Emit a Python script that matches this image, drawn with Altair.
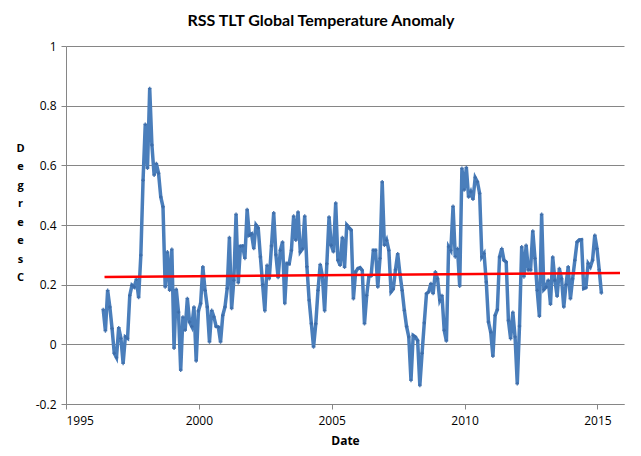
import altair as alt
import pandas as pd

# Monthly anomaly values (deg C), Jul 1996 onward
anom_a = [0.117, 0.045, 0.181, 0.125, 0.053, -0.03, -0.044, 0.056, 0.02, -0.064,
          0.025, 0.02, 0.164, 0.198, 0.192, 0.218, 0.157, 0.299, 0.55, 0.738,
          0.59, 0.858, 0.668, 0.567, 0.606, 0.573, 0.494, 0.461, 0.192, 0.31]
anom_b = [0.181, 0.319, -0.013, 0.185, 0.108, -0.087, 0.092, 0.047, 0.154, 0.075,
          0.06, 0.125, -0.056, 0.112, 0.137, 0.26, 0.181, 0.125, 0.008, 0.114,
          0.092, 0.06, 0.058, 0.008, 0.097, 0.125, 0.187]
anom_c = [0.358, 0.12, 0.215, 0.436, 0.206, 0.329, 0.33, 0.288, 0.452, 0.366,
          0.37, 0.321, 0.4, 0.39, 0.293, 0.2, 0.112, 0.265, 0.22, 0.33,
          0.441, 0.3, 0.224, 0.315, 0.343, 0.137, 0.271, 0.27, 0.315, 0.43,
          0.349, 0.444, 0.31, 0.32, 0.43, 0.26, 0.148, 0.07, -0.009, 0.069,
          0.181, 0.268, 0.228, 0.112, 0.27, 0.427, 0.332, 0.31, 0.474, 0.282,
          0.265, 0.358, 0.258, 0.4, 0.391, 0.383, 0.153, 0.243, 0.254]
anom_d = [0.257, 0.248, 0.069, 0.164, 0.228, 0.23, 0.315, 0.315, 0.192, 0.288,
          0.545, 0.332, 0.349, 0.315, 0.176, 0.185, 0.25, 0.304, 0.237, 0.181,
          0.114, 0.06, 0.025, -0.121, 0.03, 0.025, 0.013, -0.138]
anom_e = [-0.03, 0.072, 0.17, 0.176, 0.204, 0.17, 0.243, 0.22, 0.148, 0.164,
          0.047, 0.011, 0.327, 0.315, 0.463, 0.293, 0.321, 0.195, 0.59]
anom_f = [0.517, 0.593, 0.494, 0.511, 0.486, 0.559, 0.545, 0.506, 0.293, 0.304,
          0.209, 0.075, 0.041, -0.04, 0.097, 0.116, 0.293, 0.321, 0.282, 0.276,
          0.08, 0.019, 0.108, 0.025, -0.132, 0.061, 0.327]
anom_g = [0.226, 0.332, 0.25, 0.25, 0.38, 0.288, 0.181, 0.094, 0.436, 0.184,
          0.192, 0.215, 0.134, 0.293, 0.215, 0.161, 0.254, 0.22, 0.125, 0.2,
          0.26, 0.153, 0.22, 0.282, 0.343, 0.35, 0.351, 0.187, 0.19, 0.271,
          0.26, 0.282, 0.366, 0.321, 0.25, 0.172]

start_year = 1996.4          # decimal year of first monthly point
trend_x = [1996.45, 2015.85]
trend_y = [0.226, 0.239]

x_ticks = [1995, 2000, 2005, 2010, 2015]
y_ticks = [-0.2, 0, 0.2, 0.4, 0.6, 0.8, 1]

anomaly = anom_a + anom_b + anom_c + anom_d + anom_e + anom_f + anom_g
dates = [round(start_year + i / 12, 4) for i in range(len(anomaly))]
df = pd.DataFrame({"date": dates, "anomaly": anomaly})
tr = pd.DataFrame({"date": trend_x, "anomaly": trend_y})

FONT = "Open Sans"
GRAY = "#868686"
BLUE = "#4A7EBB"

xenc = alt.X("date:Q",
             scale=alt.Scale(domain=[1995, 2016], nice=False, zero=False),
             axis=alt.Axis(values=x_ticks, format="d", title="Date", grid=False,
                           titleFontWeight="bold", titleFont=FONT, titleFontSize=12,
                           titlePadding=9, labelPadding=6))
yenc = alt.Y("anomaly:Q",
             scale=alt.Scale(domain=[-0.2, 1], nice=False, zero=False),
             axis=alt.Axis(values=y_ticks, labelExpr="'' + datum.value",
                           title=["D", "e", "g", "r", "e", "e", "s", "", "C"],
                           titleAngle=0, titleAlign="center", titleBaseline="top",
                           titleX=-46, titleY=96, titleLineHeight=18.5,
                           titleFontWeight="bold", titleFont=FONT, titleFontSize=11,
                           grid=True, labelPadding=5))

line = alt.Chart(df).mark_line(color=BLUE, strokeWidth=3.5).encode(x=xenc, y=yenc)
pts = alt.Chart(df).mark_point(shape="cross", filled=True, color="#3C6CA8",
                               size=12, opacity=0.9).encode(x="date:Q", y="anomaly:Q")
trend = alt.Chart(tr).mark_line(color="#FF0000", strokeWidth=2.5).encode(
    x="date:Q", y="anomaly:Q")

chart = alt.layer(line, pts, trend).properties(
    width=558, height=358,
    title=alt.TitleParams("RSS TLT Global Temperature Anomaly",
                          font="Lato", fontSize=16,
                          fontWeight="bold", anchor="middle", dx=-24, offset=11,
                          color="#000000"),
    autosize=alt.AutoSizeParams(type="none"),
    padding={"left": 58, "top": 38, "right": 9, "bottom": 44},
).configure_view(stroke=None).configure_axis(
    domainColor=GRAY, tickColor=GRAY, gridColor=GRAY, tickSize=5,
    labelFont=FONT, labelFontSize=12, labelColor="#000000",
    titleColor="#000000", gridWidth=1, domainWidth=1)

chart.save("out.html", embed_options={"renderer": "svg", "actions": False})
